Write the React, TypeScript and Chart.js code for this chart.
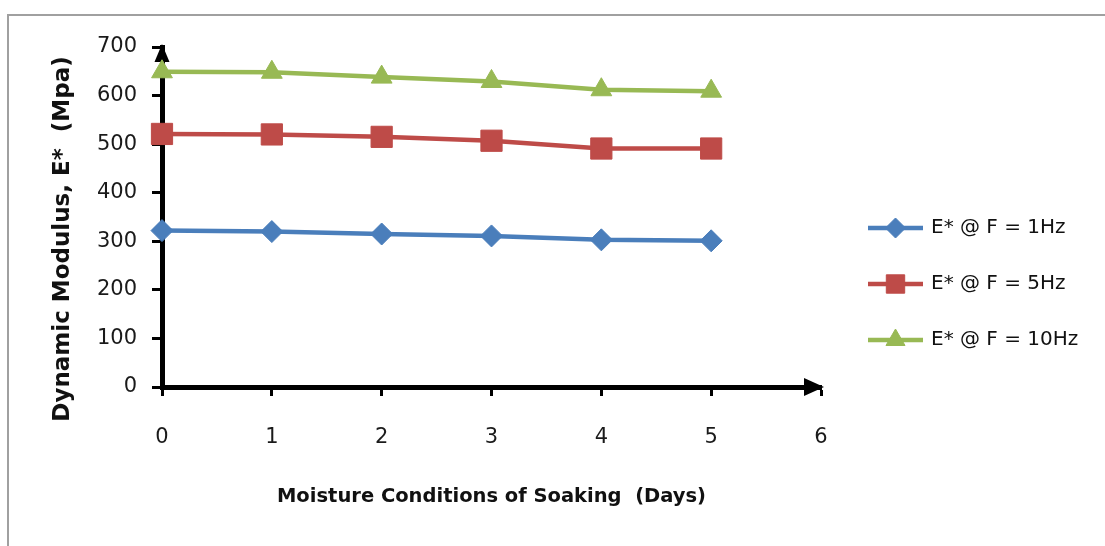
import React, { useEffect, useRef } from 'react';
import { Chart, registerables } from 'chart.js';
import { drawPoint } from 'chart.js/helpers';

Chart.register(...registerables);

const days = [0, 1, 2, 3, 4, 5];
const e1Hz = [322, 320, 315, 311, 303, 301];
const e5Hz = [521, 520, 515, 507, 491, 491];
const e10Hz = [649, 648, 638, 629, 612, 609];
const seriesLabels = ['E* @ F = 1Hz', 'E* @ F = 5Hz', 'E* @ F = 10Hz'];
const seriesColors = ['#4a7ebb', '#be4b48', '#98b954'];
const seriesStyles = ['rectRot', 'rect', 'triangle'];
const xTitle = 'Moisture Conditions of Soaking  (Days)';
const yTitle = 'Dynamic Modulus, E*  (Mpa)';

const FONT = "'DejaVu Sans', 'Open Sans', sans-serif";

const pointRadii = [11, 15, 12];
const legendRadii = [10, 13, 11];

const decorPlugin = {
  id: 'decor',
  beforeDraw(chart: any) {
    const ctx = chart.ctx;
    ctx.save();
    ctx.fillStyle = '#ffffff';
    ctx.fillRect(0, 0, chart.width, chart.height);
    ctx.strokeStyle = '#a0a0a0';
    ctx.lineWidth = 2;
    ctx.beginPath();
    ctx.moveTo(8, chart.height);
    ctx.lineTo(8, 15);
    ctx.lineTo(chart.width, 15);
    ctx.stroke();
    ctx.restore();
  },
  beforeDatasetsDraw(chart: any) {
    const ctx = chart.ctx;
    const area = chart.chartArea;
    ctx.save();
    ctx.fillStyle = '#000';
    const yx = area.left;
    ctx.beginPath();
    ctx.moveTo(yx, area.top - 3);
    ctx.lineTo(yx - 7.5, area.top + 15);
    ctx.lineTo(yx + 7.5, area.top + 15);
    ctx.closePath();
    ctx.fill();
    const xy = area.bottom;
    ctx.beginPath();
    ctx.moveTo(area.right + 3, xy);
    ctx.lineTo(area.right - 17, xy - 9);
    ctx.lineTo(area.right - 17, xy + 9);
    ctx.closePath();
    ctx.fill();
    ctx.restore();
  },
  afterDraw(chart: any) {
    const ctx = chart.ctx;
    const area = chart.chartArea;
    ctx.save();
    ctx.fillStyle = '#111';
    ctx.font = `bold 19.5px ${FONT}`;
    ctx.textAlign = 'center';
    ctx.textBaseline = 'middle';
    ctx.fillText(xTitle, (area.left + area.right) / 2, 497);
    ctx.save();
    ctx.translate(63, 239);
    ctx.rotate(-Math.PI / 2);
    ctx.font = `bold 23px ${FONT}`;
    ctx.fillText(yTitle, 0, 0);
    ctx.restore();

    const lx0 = area.right + 47;
    const lx1 = lx0 + 55;
    const ys = [228, 284, 340];
    chart.data.datasets.forEach((ds: any, i: number) => {
      const y = ys[i];
      ctx.strokeStyle = ds.borderColor;
      ctx.lineWidth = 4.5;
      ctx.beginPath();
      ctx.moveTo(lx0, y);
      ctx.lineTo(lx1, y);
      ctx.stroke();
      ctx.fillStyle = ds.borderColor;
      ctx.strokeStyle = ds.borderColor;
      ctx.lineWidth = 1;
      drawPoint(ctx, { pointStyle: ds.pointStyle, rotation: 0, radius: legendRadii[i], borderWidth: 1 }, (lx0 + lx1) / 2, y);
      ctx.fillStyle = '#111';
      ctx.font = `20px ${FONT}`;
      ctx.textAlign = 'left';
      ctx.textBaseline = 'middle';
      ctx.fillText(ds.label, lx1 + 8, y);
    });
    ctx.restore();
  },
};

export default function App() {
  const ref = useRef<HTMLCanvasElement | null>(null);
  useEffect(() => {
    if (!ref.current) return;
    const mk = (vals: number[], i: number) => ({
      label: seriesLabels[i],
      data: days.map((d, k) => ({ x: d, y: vals[k] })),
      borderColor: seriesColors[i],
      backgroundColor: seriesColors[i],
      pointBackgroundColor: seriesColors[i],
      pointBorderColor: seriesColors[i],
      pointStyle: seriesStyles[i],
      pointRadius: pointRadii[i],
      pointBorderWidth: 1,
      borderWidth: 4.5,
      tension: 0,
      fill: false,
      clip: false,
    });
    const chart = new Chart(ref.current, {
      type: 'line',
      data: { datasets: [mk(e1Hz, 0), mk(e5Hz, 1), mk(e10Hz, 2)] },
      options: {
        animation: false,
        responsive: false,
        devicePixelRatio: 1,
        layout: { padding: { left: 0, right: 284, top: 47, bottom: 0 } },
        plugins: { legend: { display: false }, tooltip: { enabled: false } },
        scales: {
          x: {
            type: 'linear',
            min: 0,
            max: 6,
            afterFit: (s: any) => { s.height = 159; },
            ticks: { stepSize: 1, padding: 29, color: '#1a1a1a', font: { family: FONT, size: 21 } },
            grid: { drawOnChartArea: false, drawTicks: true, tickLength: 9, tickWidth: 3, tickColor: '#000' },
            border: { display: true, color: '#000', width: 5 },
          },
          y: {
            type: 'linear',
            min: 0,
            max: 700,
            afterFit: (s: any) => { s.width = 162; },
            ticks: { stepSize: 100, padding: 15, color: '#1a1a1a', font: { family: FONT, size: 21 } },
            grid: { drawOnChartArea: false, drawTicks: true, tickLength: 10, tickWidth: 3, tickColor: '#000' },
            border: { display: true, color: '#000', width: 5 },
          },
        },
      },
      plugins: [decorPlugin],
    });
    return () => chart.destroy();
  }, []);
  return (
    <div style={{ position: 'absolute', left: 0, top: 0, width: 1105, height: 546 }}>
      <canvas ref={ref} width={1105} height={546} style={{ width: 1105, height: 546, display: 'block' }} />
    </div>
  );
}
